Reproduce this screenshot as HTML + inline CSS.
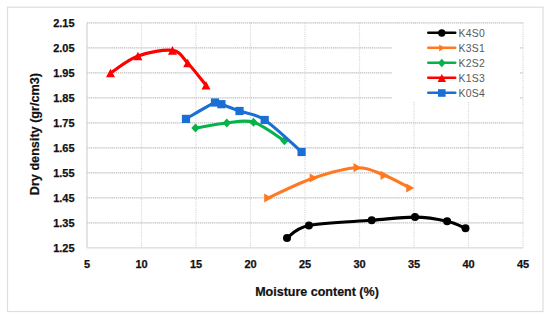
<!DOCTYPE html><html><head><meta charset="utf-8"><style>html,body{margin:0;padding:0;background:#fff;width:550px;height:320px;overflow:hidden}svg{display:block}text{font-family:"Liberation Sans",sans-serif}</style></head><body>
<svg width="550" height="320" viewBox="0 0 550 320">
<rect x="0" y="0" width="550" height="320" fill="#fff"/>
<rect x="7.5" y="7.2" width="535.5" height="304.3" fill="none" stroke="#dedede" stroke-width="1.2"/>
<g stroke="#bdbdbd" stroke-width="1.45" stroke-dasharray="1.3 0.75" fill="none"><line x1="87.00" y1="22.85" x2="523.00" y2="22.85"/><line x1="87.00" y1="47.85" x2="523.00" y2="47.85"/><line x1="87.00" y1="72.85" x2="523.00" y2="72.85"/><line x1="87.00" y1="97.85" x2="523.00" y2="97.85"/><line x1="87.00" y1="122.85" x2="523.00" y2="122.85"/><line x1="87.00" y1="147.85" x2="523.00" y2="147.85"/><line x1="87.00" y1="172.85" x2="523.00" y2="172.85"/><line x1="87.00" y1="197.85" x2="523.00" y2="197.85"/><line x1="87.00" y1="222.85" x2="523.00" y2="222.85"/></g>
<g stroke="#d8d8d8" stroke-width="1.2" stroke-dasharray="1.1 1.1" fill="none"><line x1="141.50" y1="22.85" x2="141.50" y2="247.85"/><line x1="196.00" y1="22.85" x2="196.00" y2="247.85"/><line x1="250.50" y1="22.85" x2="250.50" y2="247.85"/><line x1="305.00" y1="22.85" x2="305.00" y2="247.85"/><line x1="359.50" y1="22.85" x2="359.50" y2="247.85"/><line x1="414.00" y1="22.85" x2="414.00" y2="247.85"/><line x1="468.50" y1="22.85" x2="468.50" y2="247.85"/><line x1="523.00" y1="22.85" x2="523.00" y2="247.85"/></g>
<g stroke="#d9d9d9" stroke-width="1.4"><line x1="87.00" y1="22.85" x2="87.00" y2="247.85"/><line x1="87.00" y1="247.85" x2="523.00" y2="247.85"/></g>
<rect x="392" y="24" width="128" height="77" fill="#fff"/>
<g font-size="11" font-weight="bold" fill="#111" stroke="#111" stroke-width="0.25"><text x="74.6" y="26.75" text-anchor="end">2.15</text><text x="74.6" y="51.75" text-anchor="end">2.05</text><text x="74.6" y="76.75" text-anchor="end">1.95</text><text x="74.6" y="101.75" text-anchor="end">1.85</text><text x="74.6" y="126.75" text-anchor="end">1.75</text><text x="74.6" y="151.75" text-anchor="end">1.65</text><text x="74.6" y="176.75" text-anchor="end">1.55</text><text x="74.6" y="201.75" text-anchor="end">1.45</text><text x="74.6" y="226.75" text-anchor="end">1.35</text><text x="74.6" y="251.75" text-anchor="end">1.25</text><text x="87.00" y="268.4" text-anchor="middle">5</text><text x="141.50" y="268.4" text-anchor="middle">10</text><text x="196.00" y="268.4" text-anchor="middle">15</text><text x="250.50" y="268.4" text-anchor="middle">20</text><text x="305.00" y="268.4" text-anchor="middle">25</text><text x="359.50" y="268.4" text-anchor="middle">30</text><text x="414.00" y="268.4" text-anchor="middle">35</text><text x="468.50" y="268.4" text-anchor="middle">40</text><text x="523.00" y="268.4" text-anchor="middle">45</text></g>
<text x="317" y="295.8" text-anchor="middle" font-size="12.5" font-weight="bold" fill="#111" stroke="#111" stroke-width="0.2">Moisture content (%)</text>
<text transform="translate(39.2,134.1) rotate(-90)" text-anchor="middle" font-size="12.65" font-weight="bold" fill="#111" stroke="#111" stroke-width="0.2">Dry density (gr/cm3)</text>
<path d="M287.00,238.00 C290.65,235.93 294.78,228.55 308.90,225.60 C323.02,222.65 354.02,221.72 371.70,220.30 C389.38,218.88 402.43,216.95 415.00,217.10 C427.57,217.25 438.68,219.35 447.10,221.20 C455.52,223.05 462.43,227.03 465.50,228.20" fill="none" stroke="#000000" stroke-width="3.1" stroke-linejoin="round" stroke-linecap="round"/>
<circle cx="287.00" cy="238.00" r="4.00" fill="#000000"/>
<circle cx="308.90" cy="225.60" r="4.00" fill="#000000"/>
<circle cx="371.70" cy="220.30" r="4.00" fill="#000000"/>
<circle cx="415.00" cy="217.10" r="4.00" fill="#000000"/>
<circle cx="447.10" cy="221.20" r="4.00" fill="#000000"/>
<circle cx="465.50" cy="228.20" r="4.00" fill="#000000"/>
<path d="M268.00,198.00 C275.58,194.67 298.62,183.05 313.50,178.00 C328.38,172.95 345.50,168.15 357.30,167.70 C369.10,167.25 375.52,171.92 384.30,175.30 C393.08,178.68 405.72,185.88 410.00,188.00" fill="none" stroke="#ff7920" stroke-width="3.1" stroke-linejoin="round" stroke-linecap="round"/>
<polygon points="264.20,193.40 272.30,198.00 264.20,202.60" fill="#ff7920"/>
<polygon points="309.70,173.40 317.80,178.00 309.70,182.60" fill="#ff7920"/>
<polygon points="353.50,163.10 361.60,167.70 353.50,172.30" fill="#ff7920"/>
<polygon points="380.50,170.70 388.60,175.30 380.50,179.90" fill="#ff7920"/>
<polygon points="406.20,183.40 414.30,188.00 406.20,192.60" fill="#ff7920"/>
<path d="M195.50,128.00 C200.72,127.17 217.13,123.95 226.80,123.00 C236.47,122.05 243.90,119.33 253.50,122.30 C263.10,125.27 279.25,137.72 284.40,140.80" fill="none" stroke="#06b34a" stroke-width="3.1" stroke-linejoin="round" stroke-linecap="round"/>
<polygon points="195.50,123.50 199.70,128.00 195.50,132.50 191.30,128.00" fill="#06b34a"/>
<polygon points="226.80,118.50 231.00,123.00 226.80,127.50 222.60,123.00" fill="#06b34a"/>
<polygon points="253.50,117.80 257.70,122.30 253.50,126.80 249.30,122.30" fill="#06b34a"/>
<polygon points="284.40,136.30 288.60,140.80 284.40,145.30 280.20,140.80" fill="#06b34a"/>
<path d="M110.50,73.00 C115.07,70.17 127.57,59.77 137.90,56.00 C148.23,52.23 164.20,49.23 172.50,50.40 C180.80,51.57 182.12,57.18 187.70,63.00 C193.28,68.82 202.95,81.58 206.00,85.30" fill="none" stroke="#ff0000" stroke-width="3.1" stroke-linejoin="round" stroke-linecap="round"/>
<polygon points="110.50,68.70 115.00,77.30 106.00,77.30" fill="#ff0000"/>
<polygon points="137.90,51.70 142.40,60.30 133.40,60.30" fill="#ff0000"/>
<polygon points="172.50,46.10 177.00,54.70 168.00,54.70" fill="#ff0000"/>
<polygon points="187.70,58.70 192.20,67.30 183.20,67.30" fill="#ff0000"/>
<polygon points="206.00,81.00 210.50,89.60 201.50,89.60" fill="#ff0000"/>
<path d="M186.00,118.90 C190.83,116.17 209.10,104.95 215.00,102.50 C220.90,100.05 217.32,102.78 221.40,104.20 C225.48,105.62 232.28,108.37 239.50,111.00 C246.72,113.63 254.35,113.17 264.70,120.00 C275.05,126.83 295.45,146.67 301.60,152.00" fill="none" stroke="#1a6fd4" stroke-width="3.1" stroke-linejoin="round" stroke-linecap="round"/>
<rect x="181.90" y="114.80" width="8.20" height="8.20" fill="#1a6fd4"/>
<rect x="210.90" y="98.40" width="8.20" height="8.20" fill="#1a6fd4"/>
<rect x="217.30" y="100.10" width="8.20" height="8.20" fill="#1a6fd4"/>
<rect x="235.40" y="106.90" width="8.20" height="8.20" fill="#1a6fd4"/>
<rect x="260.60" y="115.90" width="8.20" height="8.20" fill="#1a6fd4"/>
<rect x="297.50" y="147.90" width="8.20" height="8.20" fill="#1a6fd4"/>
<line x1="428.3" y1="32.80" x2="455.2" y2="32.80" stroke="#000000" stroke-width="2.6" stroke-linecap="round"/>
<circle cx="441.80" cy="33.00" r="3.70" fill="#000000"/>
<text x="458.6" y="36.90" font-size="10.4" letter-spacing="0.25" fill="#595959">K4S0</text>
<line x1="428.3" y1="47.80" x2="455.2" y2="47.80" stroke="#ff7920" stroke-width="2.6" stroke-linecap="round"/>
<polygon points="439.20,44.60 444.90,48.00 439.20,51.40" fill="#ff7920"/>
<text x="458.6" y="51.90" font-size="10.4" letter-spacing="0.25" fill="#595959">K3S1</text>
<line x1="428.3" y1="62.80" x2="455.2" y2="62.80" stroke="#06b34a" stroke-width="2.6" stroke-linecap="round"/>
<polygon points="441.80,58.80 445.70,63.00 441.80,67.20 437.90,63.00" fill="#06b34a"/>
<text x="458.6" y="66.90" font-size="10.4" letter-spacing="0.25" fill="#595959">K2S2</text>
<line x1="428.3" y1="77.80" x2="455.2" y2="77.80" stroke="#ff0000" stroke-width="2.6" stroke-linecap="round"/>
<polygon points="441.80,74.00 446.00,82.00 437.60,82.00" fill="#ff0000"/>
<text x="458.6" y="81.90" font-size="10.4" letter-spacing="0.25" fill="#595959">K1S3</text>
<line x1="428.3" y1="92.80" x2="455.2" y2="92.80" stroke="#1a6fd4" stroke-width="2.6" stroke-linecap="round"/>
<rect x="438.00" y="89.20" width="7.60" height="7.60" fill="#1a6fd4"/>
<text x="458.6" y="96.90" font-size="10.4" letter-spacing="0.25" fill="#595959">K0S4</text>
</svg></body></html>
